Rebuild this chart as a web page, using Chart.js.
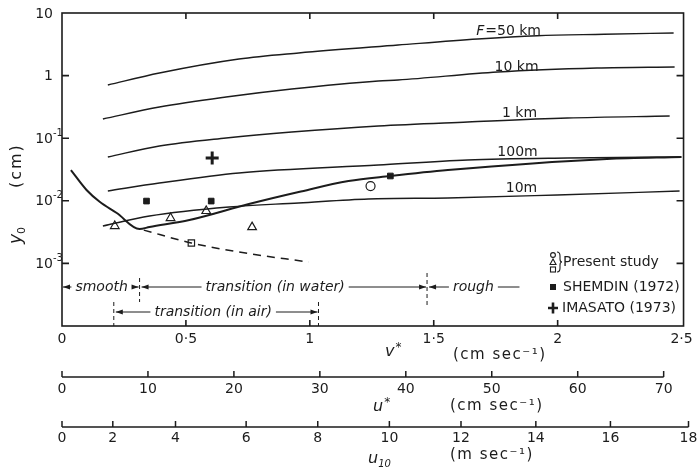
<!DOCTYPE html>
<html>
<head>
<meta charset="utf-8">
<script src="https://cdn.jsdelivr.net/npm/chart.js@4.4.1/dist/chart.umd.min.js"></script>
<style>
  html, body { margin: 0; padding: 0; background: #fff; }
</style>
</head>
<body>
<canvas id="chart" width="698" height="471"></canvas>
<script>
// --- data (v* in cm/s, y0 in cm) ---
const V_TICKS = [0, 0.5, 1, 1.5, 2, 2.5];
const U_TICKS = [0, 10, 20, 30, 40, 50, 60, 70];
const U10_LABELS = [0, 2, 4, 6, 8, 10, 12, 14, 16, 18];
const U10_AT_V = [0, 0.205, 0.458, 0.743, 1.032, 1.321, 1.610, 1.912, 2.213, 2.528];
const Y_TICKS = [10, 1, 0.1, 0.01, 0.001];
const Y_TICK_BASE = ['10', '1', '10', '10', '10'];
const Y_TICK_EXP = ['', '', '-1', '-2', '-3'];

// fetch curves
const f50kmV = [0.185, 0.393, 0.714, 0.955, 1.356, 1.677, 1.918, 2.187, 2.468];
const f50kmY = [0.708, 1.10, 1.84, 2.30, 3.08, 3.85, 4.34, 4.57, 4.80];
const f10kmV = [0.165, 0.393, 0.662, 0.927, 1.276, 1.356, 1.758, 2.159, 2.472];
const f10kmY = [0.203, 0.315, 0.455, 0.611, 0.82, 0.85, 1.14, 1.32, 1.37];
const f1kmV = [0.185, 0.393, 0.662, 0.927, 1.276, 1.637, 2.039, 2.452];
const f1kmY = [0.0501, 0.075, 0.1007, 0.1256, 0.157, 0.1816, 0.210, 0.226];
const f100mV = [0.185, 0.393, 0.714, 1.276, 1.637, 2.039, 2.492];
const f100mY = [0.01435, 0.0192, 0.0278, 0.0373, 0.0449, 0.0483, 0.0501];
const f10mV = [0.165, 0.353, 0.674, 0.955, 1.236, 1.557, 1.998, 2.492];
const f10mY = [0.00395, 0.00571, 0.00796, 0.00923, 0.0107, 0.0111, 0.0124, 0.01435];

// smooth / transition curve and its dashed continuation
const regimeV = [0.036, 0.099, 0.152, 0.221, 0.313, 0.353, 0.514, 0.754, 0.955, 1.156, 1.324, 1.557, 2.199, 2.500];
const regimeY = [0.031, 0.0149, 0.00966, 0.00638, 0.00354, 0.00381, 0.00493, 0.00889, 0.01384, 0.0207, 0.0249, 0.0310, 0.0466, 0.0501];
const dashV = [0.33, 0.522, 0.714, 0.995];
const dashY = [0.0034, 0.00212, 0.00152, 0.00105];

// observations
const circleV = [1.245];
const circleY = [0.0172];
const triangleV = [0.213, 0.438, 0.582, 0.767];
const triangleY = [0.00395, 0.0053, 0.00687, 0.0038];
const squareV = [0.522];
const squareY = [0.00212];
const shemdinV = [0.341, 0.602, 1.325];
const shemdinY = [0.0099, 0.0099, 0.0249];
const imasatoV = [0.606];
const imasatoY = [0.0483];

// curve labels (position in data units)
const curveLabelText = ['=50 km', '10 km', '1 km', '100m', '10m'];
const curveLabelV = [1.80, 1.834, 1.846, 1.838, 1.854];
const curveLabelY = [5.16, 1.347, 0.253, 0.0603, 0.0157];

// regime boundaries on the v* scale
const smoothEnd = 0.313;
const roughStart = 1.473;
const airStart = 0.209;
const airEnd = 1.035;

const V_MAX = 2.528;
const U_MAX = 72.89;
const V_FRAME = 2.508;

const INK = '#1c1c1c';
const FONT = "'DejaVu Sans', sans-serif";

const pts = (xs, ys) => xs.map((x, i) => ({ x: x, y: ys[i] }));

function curveSet(xs, ys, width, dash) {
    return {
        data: pts(xs, ys),
        showLine: true,
        borderColor: INK,
        borderWidth: width,
        borderDash: dash || [],
        pointRadius: 0,
        cubicInterpolationMode: 'monotone',
        fill: false
    };
}

function markSet(xs, ys, style, filled, r, bw) {
    return {
        data: pts(xs, ys),
        showLine: false,
        pointStyle: style,
        pointRadius: r,
        borderColor: INK,
        borderWidth: bw,
        backgroundColor: filled ? INK : '#fff'
    };
}

function bottomAxis(min, max, ticks, height, pad, weight, cb) {
    return {
        type: 'linear',
        position: 'bottom',
        min: min,
        max: max,
        weight: weight,
        grid: { display: false, drawTicks: false },
        border: { display: false },
        ticks: {
            autoSkip: false,
            maxRotation: 0,
            padding: pad,
            color: INK,
            font: { family: FONT, size: 14 },
            callback: cb
        },
        afterBuildTicks: s => { s.ticks = ticks.map(v => ({ value: v })); },
        afterFit: s => { s.height = height; s.paddingLeft = 0; s.paddingRight = 0; }
    };
}

function arrowHead(c, x, y, dir) {
    c.beginPath();
    c.moveTo(x, y);
    c.lineTo(x - dir * 7, y - 2.6);
    c.lineTo(x - dir * 7, y + 2.6);
    c.closePath();
    c.fill();
}

function span(c, x1, x2, y, text, cx, leftArrow, rightArrow) {
    const w = c.measureText(text).width;
    c.fillText(text, cx - w / 2, y);
    c.beginPath();
    if (cx - w / 2 - 4 > x1) { c.moveTo(x1, y); c.lineTo(cx - w / 2 - 4, y); }
    if (cx + w / 2 + 4 < x2) { c.moveTo(cx + w / 2 + 4, y); c.lineTo(x2, y); }
    c.stroke();
    if (leftArrow) arrowHead(c, x1, y, -1);
    if (rightArrow) arrowHead(c, x2, y, 1);
}

function vDash(c, x, y1, y2) {
    c.save();
    c.setLineDash([4, 3]);
    c.lineWidth = 1;
    c.beginPath();
    c.moveTo(x, y1);
    c.lineTo(x, y2);
    c.stroke();
    c.restore();
}

const decor = {
    id: 'decor',
    afterDraw(chart) {
        const c = chart.ctx, ca = chart.chartArea;
        const xs = chart.scales.x, ys = chart.scales.y, us = chart.scales.u, ws = chart.scales.w;
        c.save();
        c.strokeStyle = INK;
        c.fillStyle = INK;
        c.lineWidth = 1.6;

        // frame with inward ticks
        const right = xs.getPixelForValue(V_FRAME);
        c.strokeRect(ca.left, ca.top, right - ca.left, ca.bottom - ca.top);
        c.beginPath();
        V_TICKS.slice(1, -1).forEach(v => {
            const px = xs.getPixelForValue(v);
            c.moveTo(px, ca.top); c.lineTo(px, ca.top + 6);
            c.moveTo(px, ca.bottom); c.lineTo(px, ca.bottom - 6);
        });
        Y_TICKS.slice(1).forEach(v => {
            const py = ys.getPixelForValue(v);
            c.moveTo(ca.left, py); c.lineTo(ca.left + 7, py);
            c.moveTo(right, py); c.lineTo(right - 7, py);
        });
        c.stroke();

        // y tick labels with exponents
        c.textBaseline = 'middle';
        Y_TICKS.forEach((v, i) => {
            const py = ys.getPixelForValue(v);
            c.font = '14px ' + FONT;
            c.textAlign = 'right';
            c.fillText(Y_TICK_BASE[i], ca.left - 9, py + 1);
            if (Y_TICK_EXP[i]) {
                c.font = '10px ' + FONT;
                c.textAlign = 'left';
                c.fillText(Y_TICK_EXP[i], ca.left - 9, py - 5);
            }
        });

        // secondary axes: u* and u10
        c.lineWidth = 1.5;
        [[us, U_TICKS], [ws, U10_AT_V]].forEach(([s, ticks]) => {
            const y0 = s.top + 1;
            c.beginPath();
            c.moveTo(s.getPixelForValue(ticks[0]), y0);
            c.lineTo(s.getPixelForValue(ticks[ticks.length - 1]), y0);
            ticks.forEach(t => {
                const px = s.getPixelForValue(t);
                c.moveTo(px, y0);
                c.lineTo(px, y0 - 6);
            });
            c.stroke();
        });

        // axis titles
        c.textAlign = 'left';
        c.textBaseline = 'middle';
        function title(sym, sup, sub, x, ySym, unit, xUnit, yUnit) {
            c.font = 'italic 16px ' + FONT;
            c.fillText(sym, x, ySym);
            const w = c.measureText(sym).width;
            if (sup) { c.font = '12px ' + FONT; c.fillText(sup, x + w + 1, ySym - 4); }
            if (sub) { c.font = 'italic 10px ' + FONT; c.fillText(sub, x + w, ySym + 5); }
            c.font = '15px ' + FONT;
            c.letterSpacing = '1.5px';
            c.fillText(unit, xUnit, yUnit);
            c.letterSpacing = '0px';
        }
        title('v', '*', '', 385, xs.top + 26, '(cm sec\u207B\u00B9)', 453, xs.top + 29);
        title('u', '*', '', 373, us.top + 31, '(cm sec\u207B\u00B9)', 450, us.top + 30);
        title('u', '', '10', 368, ws.top + 33, '(m sec\u207B\u00B9)', 450, ws.top + 29);

        // y title (rotated)
        c.save();
        c.translate(17, 244);
        c.rotate(-Math.PI / 2);
        c.font = 'italic 17px ' + FONT;
        c.fillText('y', 0, 0);
        c.font = '11px ' + FONT;
        c.fillText('0', 10, 5);
        c.font = '16px ' + FONT;
        c.letterSpacing = '2px';
        c.fillText('(cm)', 56, 0);
        c.letterSpacing = '0px';
        c.restore();

        // curve labels
        curveLabelText.forEach((t, i) => {
            const px = xs.getPixelForValue(curveLabelV[i]);
            const py = ys.getPixelForValue(curveLabelY[i]);
            c.font = '14px ' + FONT;
            if (i === 0) {
                const wT = c.measureText(t).width;
                c.font = 'italic 14px ' + FONT;
                const wF = c.measureText('F').width;
                const x0 = px - (wT + wF) / 2;
                c.fillText('F', x0, py);
                c.font = '14px ' + FONT;
                c.fillText(t, x0 + wF + 1, py);
            } else {
                c.textAlign = 'center';
                c.fillText(t, px, py);
                c.textAlign = 'left';
            }
        });

        // regime annotations
        c.font = 'italic 14px ' + FONT;
        c.lineWidth = 1;
        const row1 = ca.bottom - 39, row2 = ca.bottom - 14;
        const xSm = xs.getPixelForValue(smoothEnd), xRo = xs.getPixelForValue(roughStart);
        const xA1 = xs.getPixelForValue(airStart), xA2 = xs.getPixelForValue(airEnd);
        span(c, ca.left + 1, xSm - 1, row1, 'smooth', xs.getPixelForValue(0.16), true, true);
        span(c, xSm + 2, xRo - 1, row1, 'transition (in water)', xs.getPixelForValue(0.86), true, true);
        span(c, xRo + 2, xs.getPixelForValue(1.846), row1, 'rough', xs.getPixelForValue(1.66), true, false);
        span(c, xA1 + 2, xA2 - 1, row2, 'transition (in air)', xs.getPixelForValue(0.61), true, true);
        vDash(c, xSm, row1 - 9, row1 + 15);
        vDash(c, xRo, row1 - 14, row1 + 18);
        vDash(c, xA1, row2 - 10, ca.bottom);
        vDash(c, xA2, row2 - 10, ca.bottom);

        // legend
        const lx = 553;
        c.lineWidth = 1.1;
        c.beginPath(); c.arc(lx, 255, 2.4, 0, Math.PI * 2); c.stroke();
        c.beginPath(); c.moveTo(lx, 259); c.lineTo(lx - 3, 264.5); c.lineTo(lx + 3, 264.5); c.closePath(); c.stroke();
        c.strokeRect(lx - 2.5, 267, 5, 5);
        c.beginPath();
        c.moveTo(lx + 4, 252); c.quadraticCurveTo(lx + 7, 252, lx + 7, 256);
        c.lineTo(lx + 7, 259); c.quadraticCurveTo(lx + 7, 262, lx + 9, 262);
        c.quadraticCurveTo(lx + 7, 262, lx + 7, 265);
        c.lineTo(lx + 7, 268); c.quadraticCurveTo(lx + 7, 272, lx + 4, 272);
        c.stroke();
        c.fillRect(lx - 3, 284, 6, 6);
        c.lineWidth = 2.6;
        c.beginPath();
        c.moveTo(lx - 5, 308); c.lineTo(lx + 5, 308);
        c.moveTo(lx, 302.5); c.lineTo(lx, 313.5);
        c.stroke();
        c.font = '14px ' + FONT;
        c.fillText('Present study', 563, 262);
        c.fillText('SHEMDIN (1972)', 563, 287);
        c.fillText('IMASATO (1973)', 562, 308);

        c.restore();
    }
};

new Chart(document.getElementById('chart'), {
    type: 'scatter',
    data: {
        datasets: [
            curveSet(f50kmV, f50kmY, 1.4),
            curveSet(f10kmV, f10kmY, 1.4),
            curveSet(f1kmV, f1kmY, 1.4),
            curveSet(f100mV, f100mY, 1.4),
            curveSet(f10mV, f10mY, 1.4),
            curveSet(regimeV, regimeY, 2),
            curveSet(dashV, dashY, 1.5, [8, 6]),
            markSet(circleV, circleY, 'circle', false, 4.5, 1.2),
            markSet(triangleV, triangleY, 'triangle', false, 5, 1.2),
            markSet(squareV, squareY, 'rect', false, 4.5, 1.2),
            markSet(shemdinV, shemdinY, 'rect', true, 4, 1),
            markSet(imasatoV, imasatoY, 'cross', false, 6.5, 3)
        ]
    },
    options: {
        responsive: false,
        animation: false,
        layout: { padding: { top: 13, right: 6, bottom: 0, left: 0 } },
        plugins: { legend: { display: false }, tooltip: { enabled: false } },
        scales: {
            x: bottomAxis(0, V_MAX, V_TICKS, 50, 5, 0, v => String(v).replace('.', '\u00B7')),
            u: bottomAxis(0, U_MAX, U_TICKS, 50, 5, 1, v => String(v)),
            w: bottomAxis(0, V_MAX, U10_AT_V, 45, 4, 2, (v, i) => String(U10_LABELS[i])),
            y: {
                type: 'logarithmic',
                min: 1e-4,
                max: 10,
                grid: { display: false, drawTicks: false },
                border: { display: false },
                ticks: { display: false },
                afterBuildTicks: s => { s.ticks = Y_TICKS.map(v => ({ value: v })); },
                afterFit: s => { s.width = 62; }
            }
        }
    },
    plugins: [decor]
});
</script>
</body>
</html>
